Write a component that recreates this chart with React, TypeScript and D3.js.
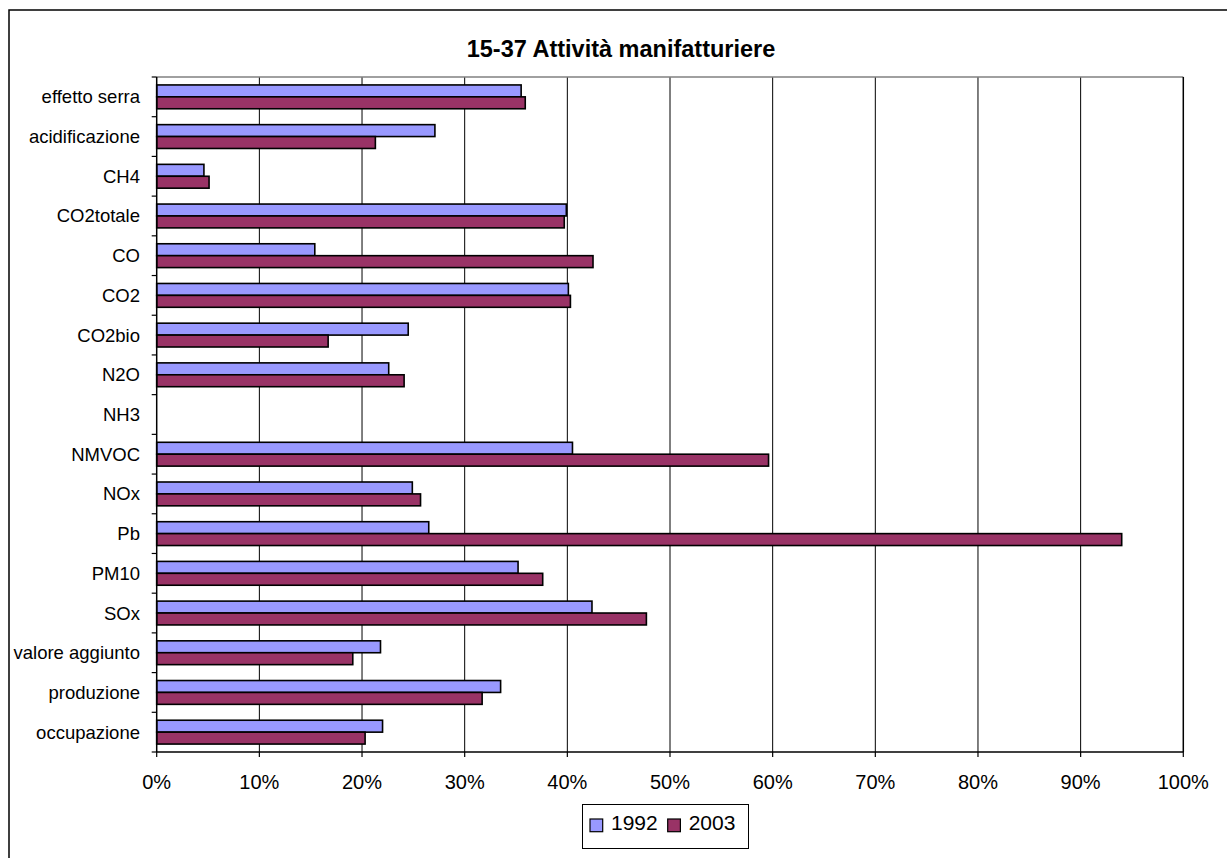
import React from "react";
import * as d3 from "d3";

// Categories, top to bottom
const categories: string[] = [
  "effetto serra",
  "acidificazione",
  "CH4",
  "CO2totale",
  "CO",
  "CO2",
  "CO2bio",
  "N2O",
  "NH3",
  "NMVOC",
  "NOx",
  "Pb",
  "PM10",
  "SOx",
  "valore aggiunto",
  "produzione",
  "occupazione",
];

// Share of the national total (%), one value per category
const values1992: (number | null)[] = [
  35.5, 27.1, 4.6, 39.9, 15.4, 40.1, 24.5, 22.6, null, 40.5, 24.9, 26.5, 35.2, 42.4, 21.8, 33.5, 22.0,
];
const values2003: (number | null)[] = [
  35.9, 21.3, 5.1, 39.7, 42.5, 40.3, 16.7, 24.1, null, 59.6, 25.7, 94.0, 37.6, 47.7, 19.1, 31.7, 20.3,
];

const seriesNames: string[] = ["1992", "2003"];
const seriesColors: string[] = ["#9999FF", "#993366"];
const xTicks: number[] = [0, 10, 20, 30, 40, 50, 60, 70, 80, 90, 100];

const title = "15-37 Attività manifatturiere";

const W = 1227;
const H = 858;
const plot = { left: 156.7, right: 1183.3, top: 77, bottom: 752 };
const font = "'Liberation Sans', Arial, Helvetica, sans-serif";

export default function App() {
  const x = d3.scaleLinear().domain([0, 100]).range([plot.left, plot.right]);
  const y = d3.scaleBand<string>().domain(categories).range([plot.top, plot.bottom]).padding(0);
  const bw = y.bandwidth();
  const inner = d3
    .scaleBand<string>()
    .domain(seriesNames)
    .range([bw * 0.2, bw * 0.8])
    .padding(0);

  const series = [values1992, values2003];

  return (
    <svg
      width={W}
      height={H}
      style={{ position: "absolute", left: 0, top: 0, background: "#fff" }}
      fontFamily={font}
    >
      {/* chart frame */}
      <rect x={9} y={10} width={1224} height={852} fill="#fff" stroke="#000" strokeWidth={1.5} />

      {/* title */}
      <text x={621} y={57} textAnchor="middle" fontWeight="bold" fontSize={23.5} fill="#000">
        {title}
      </text>

      {/* vertical gridlines */}
      {xTicks
        .filter((t) => t > 0 && t < 100)
        .map((t) => (
          <line key={"g" + t} x1={x(t)} x2={x(t)} y1={plot.top} y2={plot.bottom} stroke="#000" strokeWidth={1} />
        ))}

      {/* plot area border: gray top, black right */}
      <line x1={plot.left} x2={plot.right} y1={plot.top} y2={plot.top} stroke="#808080" strokeWidth={1.5} />
      <line x1={plot.right} x2={plot.right} y1={plot.top} y2={plot.bottom} stroke="#000" strokeWidth={1.5} />

      {/* bars */}
      {categories.map((c, i) =>
        series.map((vals, s) => {
          const v = vals[i];
          if (v == null) return null;
          const by = (y(c) as number) + (inner(seriesNames[s]) as number);
          return (
            <rect
              key={c + s}
              x={x(0)}
              y={by}
              width={x(v) - x(0)}
              height={inner.bandwidth()}
              fill={seriesColors[s]}
              stroke="#000"
              strokeWidth={1.6}
            />
          );
        })
      )}

      {/* category axis */}
      <line x1={plot.left} x2={plot.left} y1={plot.top} y2={plot.bottom} stroke="#000" strokeWidth={1.5} />
      {[...categories.map((c) => y(c) as number), plot.bottom].map((yy, i) => (
        <line key={"yt" + i} x1={plot.left - 5} x2={plot.left} y1={yy} y2={yy} stroke="#000" strokeWidth={1.2} />
      ))}
      {categories.map((c) => (
        <text
          key={"yl" + c}
          x={140}
          y={(y(c) as number) + bw / 2}
          dy="0.35em"
          textAnchor="end"
          fontSize={18.5}
          fill="#000"
        >
          {c}
        </text>
      ))}

      {/* value axis */}
      <line x1={plot.left} x2={plot.right} y1={plot.bottom} y2={plot.bottom} stroke="#000" strokeWidth={1.5} />
      {xTicks.map((t) => (
        <g key={"xt" + t}>
          <line x1={x(t)} x2={x(t)} y1={plot.bottom} y2={plot.bottom + 5} stroke="#000" strokeWidth={1.2} />
          <text x={x(t)} y={789} textAnchor="middle" fontSize={20} fill="#000">
            {t + "%"}
          </text>
        </g>
      ))}

      {/* legend */}
      <rect x={582.5} y={804.5} width={166} height={44} fill="#fff" stroke="#000" strokeWidth={1} />
      {seriesNames.map((n, i) => {
        const lx = 590 + i * 77.7;
        return (
          <g key={"lg" + n}>
            <rect x={lx} y={819} width={12.7} height={12.7} fill={seriesColors[i]} stroke="#000" strokeWidth={1.2} />
            <text x={lx + 21} y={830} fontSize={21} fill="#000">
              {n}
            </text>
          </g>
        );
      })}
    </svg>
  );
}
